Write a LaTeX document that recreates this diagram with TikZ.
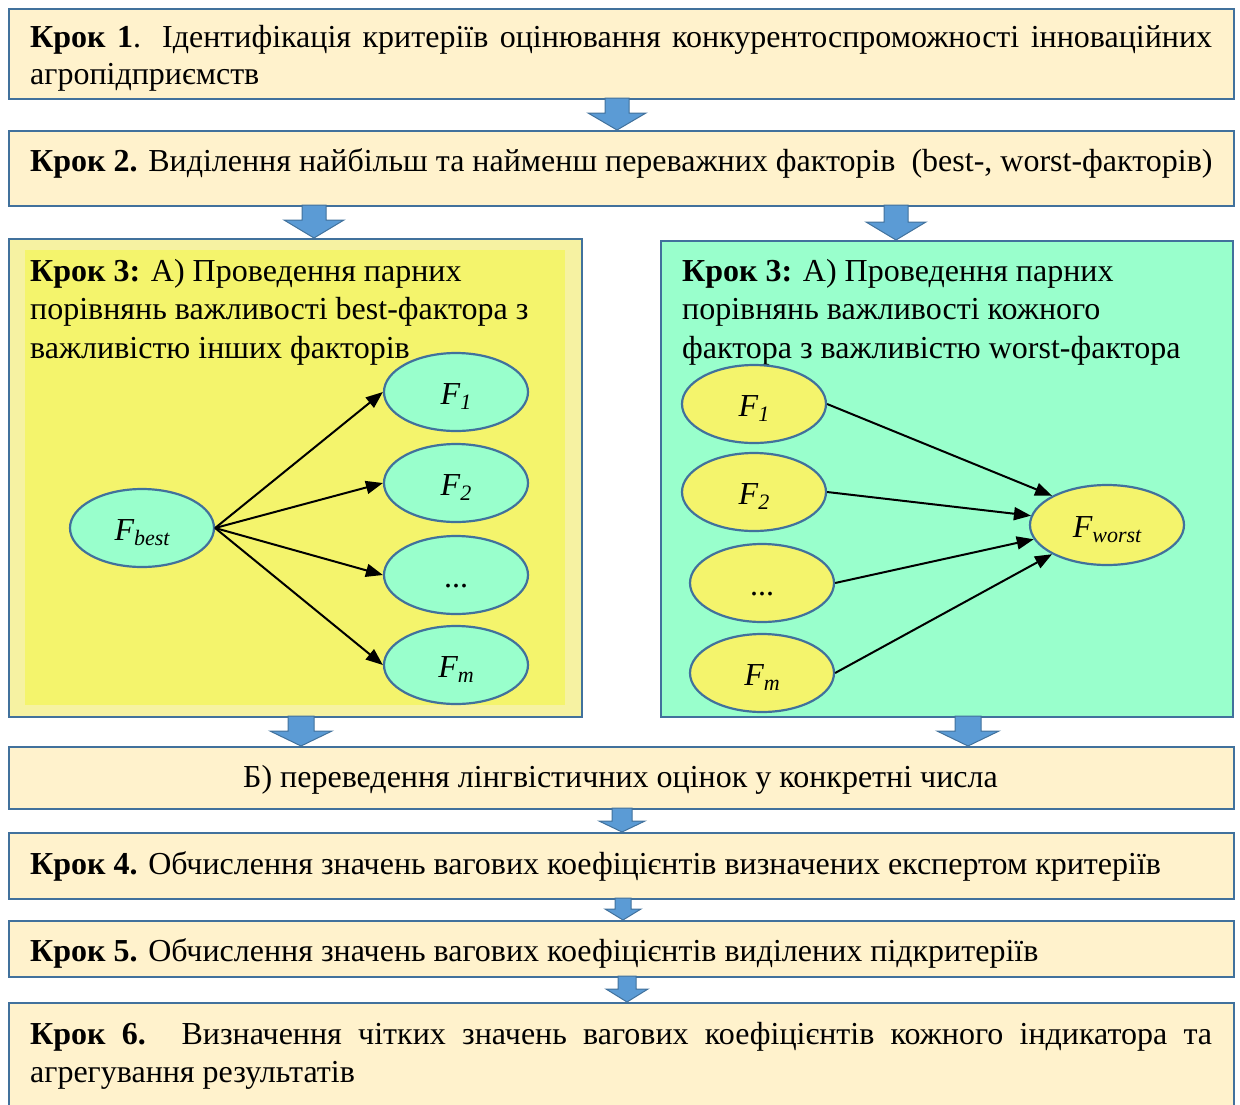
\documentclass[tikz,border=0pt]{standalone}
\usepackage{fontspec}
\setmainfont{Liberation Serif}
\usetikzlibrary{shapes.geometric,arrows.meta,calc}
\definecolor{cream}{HTML}{FFF2CC}
\definecolor{bord}{HTML}{41719C}
\definecolor{ablue}{HTML}{5B9BD5}
\definecolor{ylwo}{HTML}{F6F2A2}
\definecolor{ylwi}{HTML}{F4F46C}
\definecolor{mint}{HTML}{99FFCC}
\newcommand\blkarrow[7]{% x, ytop, ybot, shaft half, head half, head top y
  \filldraw[fill=ablue,draw=bord,line width=1pt]
    (#1-#4,#2) -- (#1+#4,#2) -- (#1+#4,#6) -- (#1+#5,#6) -- (#1,#3) -- (#1-#5,#6) -- (#1-#4,#6) -- cycle;}
\tikzset{
  stepbox/.style={draw=bord,fill=cream,line width=2.2pt,rectangle,inner sep=0pt,anchor=north west},
  txt/.style={font=\fontsize{32}{37}\selectfont,inner sep=0pt},
  ell/.style={ellipse,draw=bord,line width=2.2pt,inner sep=0pt,minimum width=144pt,minimum height=78pt,font=\fontsize{32}{37}\selectfont,text height=27pt,text depth=2pt},
  conn/.style={line width=2pt,-{Triangle[length=17pt,width=13pt]}},
}
\newcommand\Fsub[1]{\textit{F\raisebox{-0.35ex}{\fontsize{22}{22}\selectfont #1}}}
\begin{document}
\begin{tikzpicture}[x=1pt,y=-1pt]
\useasboundingbox (0,0) rectangle (1240,1104);
% step boxes
\node[stepbox,minimum width=1225pt,minimum height=90pt] (b1) at (8,8) {};
\node[txt,text width=1182pt,align=justify,anchor=west] (t1) at (30,58.5) {\textbf{Крок 1}. Ідентифікація критеріїв оцінювання конкурентоспроможності інноваційних\linebreak агропідприємств};
\node[stepbox,minimum width=1225pt,minimum height=75pt] (b2) at (8,130) {};
\node[txt,anchor=west] (t2) at (30,163) {\textbf{Крок 2.} Виділення найбільш та найменш переважних факторів \ (best-, worst-факторів)};
% panels
\node[stepbox,fill=ylwo,minimum width=573pt,minimum height=478pt] (pl) at (8,238) {};
\fill[ylwi] (25,250) rectangle (565,705);
\node[stepbox,fill=mint,minimum width=572pt,minimum height=476pt] (pr) at (660,240) {};
\node[txt,font=\fontsize{32}{38.5}\selectfont,align=left,anchor=north west] (tl) at (30,259) {\textbf{Крок 3:} А) Проведення парних\\порівнянь важливості best-фактора з\\важливістю інших факторів};
\node[txt,font=\fontsize{32}{38.5}\selectfont,align=left,anchor=north west] (tr) at (682,259) {\textbf{Крок 3:} А) Проведення парних\\порівнянь важливості кожного\\фактора з важливістю worst-фактора};
% left graph
\node[ell,fill=mint] (fb) at (142,528) {\Fsub{best}};
\node[ell,fill=mint] (l1) at (456,392) {\Fsub{1}};
\node[ell,fill=mint] (l2) at (456,483) {\Fsub{2}};
\node[ell,fill=mint] (l3) at (456,575) {...};
\node[ell,fill=mint] (l4) at (456,665) {\Fsub{m}};
\foreach \n in {l1,l2,l3,l4} \draw[conn] (fb.east) -- (\n.west);
% right graph
\node[ell,fill=ylwi] (r1) at (754,404) {\Fsub{1}};
\node[ell,fill=ylwi] (r2) at (754,492) {\Fsub{2}};
\node[ell,fill=ylwi] (r3) at (762,583) {...};
\node[ell,fill=ylwi] (r4) at (762,673) {\Fsub{m}};
\node[ell,fill=ylwi,minimum width=154pt,minimum height=80pt] (fw) at (1107,525) {\Fsub{worst}};
\draw[conn] (r1.east) -- (fw.152);
\draw[conn] (r2.east) -- (fw.173);
\draw[conn] (r3.east) -- (fw.191);
\draw[conn] (r4.east) -- (fw.208);
% lower boxes
\node[stepbox,minimum width=1225pt,minimum height=62pt] (bb) at (8,746) {};
\node[txt] (tb) at (620.5,780) {Б) переведення лінгвістичних оцінок у конкретні числа};
\node[stepbox,minimum width=1225pt,minimum height=66pt] (b4) at (8,832) {};
\node[txt,anchor=west] (t4) at (30,866) {\textbf{Крок 4.} Обчислення значень вагових коефіцієнтів визначених експертом критеріїв};
\node[stepbox,minimum width=1225pt,minimum height=56pt] (b5) at (8,920) {};
\node[txt,anchor=west] (t5) at (30,953) {\textbf{Крок 5.} Обчислення значень вагових коефіцієнтів виділених підкритеріїв};
\node[stepbox,minimum width=1225pt,minimum height=106pt] (b6) at (8,1002) {};
\node[txt,font=\fontsize{32}{38}\selectfont,text width=1182pt,align=justify,anchor=north west] (t6) at (30,1022) {\textbf{Крок 6.} Визначення чітких значень вагових коефіцієнтів кожного індикатора та\linebreak агрегування результатів};
% block arrows
\blkarrow{617}{98}{130}{12}{29}{113}{}
\blkarrow{314}{205}{238}{12}{30}{220}{}
\blkarrow{896}{205}{240}{12}{30}{222}{}
\blkarrow{301}{716}{746}{13}{31}{731}{}
\blkarrow{968}{716}{746}{13}{31}{731}{}
\blkarrow{622}{808}{832}{10}{23}{821}{}
\blkarrow{623}{898}{920}{8}{18}{909}{}
\blkarrow{627}{976}{1002}{9}{21}{989}{}
\end{tikzpicture}
\end{document}
